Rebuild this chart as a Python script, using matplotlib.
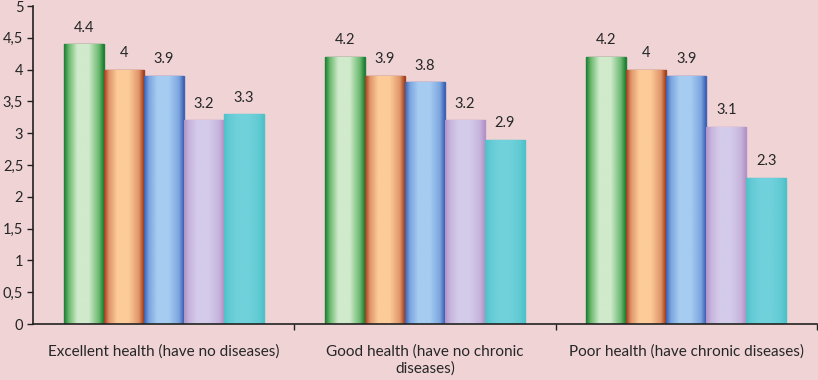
import numpy as np
import matplotlib
matplotlib.use("Agg")
import matplotlib.pyplot as plt
from matplotlib.colors import LinearSegmentedColormap

categories = ["Excellent health (have no diseases)",
              "Good health (have no chronic\ndiseases)",
              "Poor health (have chronic diseases)"]
series_1 = [4.4, 4.2, 4.2]
series_2 = [4.0, 3.9, 4.0]
series_3 = [3.9, 3.8, 3.9]
series_4 = [3.2, 3.2, 3.1]
series_5 = [3.3, 2.9, 2.3]
yticks = [0, 0.5, 1, 1.5, 2, 2.5, 3, 3.5, 4, 4.5, 5]
ytick_labels = ["0", "0,5", "1", "1,5", "2", "2,5", "3", "3,5", "4", "4,5", "5"]

# (dark edge, mid, light centre)
palettes = [
    ("#1E7F35", "#6DBA70", "#D0EACB"),
    ("#A3401E", "#E0956A", "#FCCB98"),
    ("#3F62B5", "#7DA6DF", "#A6CCF1"),
    ("#B393C7", "#C6B4DD", "#D4CBEA"),
    ("#4EC2C8", "#62CAD4", "#70D1DB"),
]

BG = "#EFD3D5"
plt.rcParams['font.family'] = ['Lato', 'DejaVu Sans']

fig = plt.figure(figsize=(8.18, 3.8), dpi=100)
fig.patch.set_facecolor(BG)
ax = fig.add_axes([33/818, 56/380, 784/818, 318/380])
ax.set_facecolor(BG)

all_series = [series_1, series_2, series_3, series_4, series_5]
x = np.arange(len(categories))
width = 0.153
nser = len(all_series)

for i, vals in enumerate(all_series):
    dark, mid, light = palettes[i]
    cmap = LinearSegmentedColormap.from_list(
        "g%d" % i,
        [(0, dark), (0.12, mid), (0.33, light), (0.62, light), (0.88, mid), (1, dark)])
    offs = x + (i - (nser - 1) / 2) * width
    bars = ax.bar(offs, vals, width, color=mid, edgecolor=dark, linewidth=1, zorder=2)
    for b, v in zip(bars, vals):
        x0, y0 = b.get_x(), b.get_y()
        im = ax.imshow(np.linspace(0, 1, 64).reshape(1, -1), cmap=cmap,
                       extent=[x0, x0 + b.get_width(), y0, y0 + b.get_height()],
                       aspect="auto", zorder=2.5, interpolation="bilinear")
        im.set_clip_path(b)
        ax.text(b.get_x() + b.get_width() / 2, v + 0.15, f"{v:g}",
                ha="center", va="bottom", fontsize=10.5, color="#262626")

ax.set_xlim(-0.5, 2.5)
ax.set_ylim(0, 5)
ax.set_yticks(yticks)
ax.set_yticklabels(ytick_labels, fontsize=10.5, color="#262626")
ax.set_xticks(x)
ax.set_xticklabels(categories, fontsize=11, color="#262626", linespacing=1.2)
ax.set_xticks([0.5, 1.5, 2.5], minor=True)
ax.tick_params(axis="x", which="major", length=0, pad=15)
ax.tick_params(axis="x", which="minor", length=4, width=1, color="#222222")
ax.tick_params(axis="y", length=4, width=1, color="#222222", pad=3)
for s in ["top", "right"]:
    ax.spines[s].set_visible(False)
for s in ["left", "bottom"]:
    ax.spines[s].set_color("#222222")
    ax.spines[s].set_linewidth(1.2)

fig.savefig("out.png", dpi=100, facecolor=BG)
